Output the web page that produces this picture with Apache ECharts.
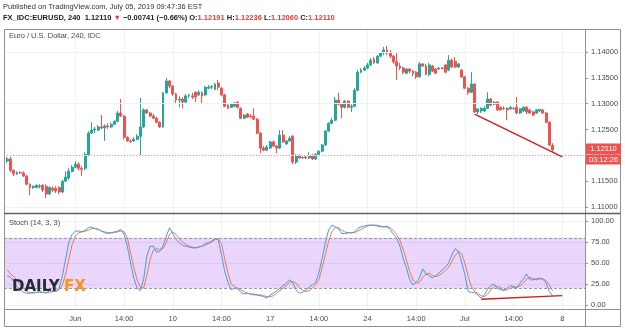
<!DOCTYPE html>
<html>
<head>
<meta charset="utf-8">
<script src="https://cdn.jsdelivr.net/npm/echarts@6/dist/echarts.min.js"></script>
<style>
  html, body { margin: 0; padding: 0; background: #fff; }
  #chart { width: 625px; height: 330px; }
</style>
</head>
<body>
<div id="chart"></div>
<script>
// x axis: 180 slots of 4h bars, labels every 15 slots
const tickIndex = [22, 37, 52, 67, 82, 97, 112, 127, 142, 157, 172];
const tickLabels = ['Jun', '14:00', '10', '14:00', '17', '14:00', '24', '14:00', 'Jul', '14:00', '8'];
const priceTicks = [1.11, 1.115, 1.12, 1.125, 1.13, 1.135, 1.14];
const stochTicks = [0, 25, 50, 75, 100];
const lastPrice = 1.1211;

// EURUSD 4h candles: [open, close, low, high]
const candles = [
  [1.1189,1.1193,1.1185,1.1197],[1.1193,1.1171,1.1167,1.1197],[1.1171,1.1164,1.1160,1.1173],[1.1164,1.1167,1.1162,1.1169],
  [1.1167,1.1166,1.1164,1.1169],[1.1166,1.1160,1.1158,1.1169],[1.1160,1.1144,1.1142,1.1162],[1.1144,1.1138,1.1123,1.1146],
  [1.1138,1.1140,1.1135,1.1142],[1.1138,1.1142,1.1136,1.1144],[1.1140,1.1141,1.1136,1.1144],[1.1142,1.1133,1.1129,1.1144],
  [1.1140,1.1125,1.1117,1.1144],[1.1125,1.1138,1.1123,1.1140],[1.1136,1.1133,1.1129,1.1140],[1.1136,1.1131,1.1127,1.1140],
  [1.1138,1.1129,1.1125,1.1140],[1.1129,1.1150,1.1127,1.1152],[1.1150,1.1158,1.1148,1.1169],[1.1156,1.1169,1.1152,1.1175],
  [1.1169,1.1177,1.1167,1.1181],[1.1177,1.1183,1.1175,1.1189],[1.1183,1.1175,1.1171,1.1187],[1.1175,1.1173,1.1160,1.1179],
  [1.1175,1.1202,1.1171,1.1206],[1.1200,1.1243,1.1198,1.1247],[1.1243,1.1249,1.1241,1.1264],[1.1249,1.1251,1.1243,1.1255],
  [1.1249,1.1255,1.1247,1.1259],[1.1255,1.1253,1.1251,1.1278],[1.1253,1.1257,1.1228,1.1260],[1.1257,1.1255,1.1251,1.1262],
  [1.1255,1.1260,1.1253,1.1264],[1.1260,1.1266,1.1259,1.1268],[1.1266,1.1282,1.1264,1.1286],[1.1282,1.1276,1.1274,1.1309],
  [1.1276,1.1235,1.1231,1.1278],[1.1235,1.1228,1.1226,1.1237],[1.1228,1.1227,1.1224,1.1231],[1.1228,1.1231,1.1226,1.1235],
  [1.1231,1.1237,1.1229,1.1241],[1.1237,1.1255,1.1200,1.1311],[1.1255,1.1288,1.1253,1.1291],[1.1288,1.1282,1.1280,1.1290],
  [1.1282,1.1276,1.1274,1.1284],[1.1276,1.1272,1.1270,1.1280],[1.1272,1.1264,1.1262,1.1274],[1.1264,1.1255,1.1253,1.1266],
  [1.1255,1.1321,1.1253,1.1322],[1.1321,1.1344,1.1319,1.1350],[1.1344,1.1334,1.1330,1.1346],[1.1334,1.1319,1.1315,1.1336],
  [1.1319,1.1307,1.1301,1.1321],[1.1307,1.1309,1.1293,1.1315],[1.1309,1.1303,1.1291,1.1313],[1.1303,1.1315,1.1301,1.1319],
  [1.1315,1.1316,1.1311,1.1319],[1.1315,1.1313,1.1309,1.1321],[1.1322,1.1313,1.1303,1.1324],[1.1317,1.1322,1.1315,1.1326],
  [1.1321,1.1315,1.1301,1.1324],[1.1317,1.1332,1.1315,1.1334],[1.1330,1.1332,1.1328,1.1336],[1.1332,1.1333,1.1328,1.1336],
  [1.1328,1.1338,1.1326,1.1340],[1.1340,1.1332,1.1326,1.1346],[1.1330,1.1317,1.1315,1.1332],[1.1317,1.1295,1.1293,1.1319],
  [1.1297,1.1291,1.1290,1.1299],[1.1293,1.1299,1.1291,1.1301],[1.1295,1.1301,1.1293,1.1303],[1.1303,1.1293,1.1291,1.1305],
  [1.1291,1.1272,1.1270,1.1293],[1.1272,1.1278,1.1270,1.1280],[1.1280,1.1274,1.1272,1.1282],[1.1276,1.1275,1.1272,1.1280],
  [1.1276,1.1270,1.1268,1.1291],[1.1270,1.1243,1.1241,1.1272],[1.1243,1.1214,1.1204,1.1245],[1.1214,1.1210,1.1208,1.1218],
  [1.1210,1.1216,1.1208,1.1220],[1.1214,1.1226,1.1212,1.1228],[1.1226,1.1218,1.1216,1.1229],[1.1218,1.1214,1.1204,1.1220],
  [1.1214,1.1239,1.1212,1.1249],[1.1239,1.1226,1.1224,1.1249],[1.1222,1.1228,1.1220,1.1229],[1.1228,1.1233,1.1226,1.1237],
  [1.1237,1.1187,1.1183,1.1239],[1.1187,1.1200,1.1183,1.1202],[1.1200,1.1195,1.1193,1.1202],[1.1195,1.1196,1.1193,1.1198],
  [1.1197,1.1195,1.1193,1.1198],[1.1195,1.1200,1.1193,1.1206],[1.1200,1.1193,1.1191,1.1202],[1.1193,1.1202,1.1191,1.1204],
  [1.1202,1.1208,1.1200,1.1210],[1.1208,1.1220,1.1206,1.1222],[1.1220,1.1247,1.1218,1.1249],[1.1247,1.1262,1.1245,1.1264],
  [1.1262,1.1268,1.1260,1.1272],[1.1268,1.1307,1.1266,1.1313],[1.1307,1.1299,1.1297,1.1321],[1.1299,1.1293,1.1272,1.1301],
  [1.1293,1.1305,1.1291,1.1307],[1.1305,1.1293,1.1291,1.1307],[1.1293,1.1295,1.1284,1.1299],[1.1295,1.1326,1.1293,1.1330],
  [1.1326,1.1361,1.1324,1.1365],[1.1361,1.1365,1.1359,1.1369],[1.1365,1.1369,1.1363,1.1373],[1.1369,1.1375,1.1367,1.1379],
  [1.1375,1.1384,1.1373,1.1388],[1.1386,1.1379,1.1377,1.1390],[1.1379,1.1392,1.1377,1.1394],[1.1392,1.1398,1.1390,1.1400],
  [1.1398,1.1404,1.1394,1.1410],[1.1404,1.1398,1.1394,1.1412],[1.1398,1.1392,1.1388,1.1404],[1.1392,1.1381,1.1377,1.1394],
  [1.1381,1.1373,1.1346,1.1400],[1.1373,1.1369,1.1365,1.1379],[1.1369,1.1361,1.1357,1.1371],[1.1359,1.1367,1.1357,1.1369],
  [1.1367,1.1363,1.1359,1.1369],[1.1363,1.1359,1.1353,1.1365],[1.1361,1.1352,1.1348,1.1363],[1.1352,1.1377,1.1350,1.1381],
  [1.1377,1.1373,1.1371,1.1379],[1.1373,1.1357,1.1355,1.1377],[1.1357,1.1375,1.1353,1.1379],[1.1373,1.1363,1.1361,1.1375],
  [1.1367,1.1359,1.1357,1.1369],[1.1367,1.1369,1.1365,1.1371],[1.1369,1.1368,1.1367,1.1371],[1.1375,1.1361,1.1359,1.1377],
  [1.1365,1.1384,1.1363,1.1394],[1.1384,1.1371,1.1369,1.1388],[1.1382,1.1371,1.1369,1.1390],[1.1371,1.1377,1.1369,1.1379],
  [1.1365,1.1352,1.1350,1.1367],[1.1352,1.1330,1.1328,1.1353],[1.1330,1.1322,1.1317,1.1332],[1.1322,1.1338,1.1321,1.1361],
  [1.1338,1.1284,1.1282,1.1340],[1.1284,1.1290,1.1280,1.1291],[1.1286,1.1291,1.1282,1.1293],[1.1286,1.1291,1.1284,1.1295],
  [1.1291,1.1309,1.1290,1.1322],[1.1309,1.1297,1.1295,1.1311],[1.1299,1.1303,1.1297,1.1305],[1.1303,1.1288,1.1286,1.1305],
  [1.1293,1.1288,1.1286,1.1295],[1.1290,1.1291,1.1288,1.1295],[1.1291,1.1288,1.1268,1.1293],[1.1290,1.1293,1.1288,1.1295],
  [1.1291,1.1290,1.1290,1.1293],[1.1293,1.1282,1.1280,1.1313],[1.1282,1.1290,1.1280,1.1291],[1.1286,1.1293,1.1284,1.1295],
  [1.1293,1.1284,1.1280,1.1295],[1.1288,1.1282,1.1280,1.1290],[1.1284,1.1278,1.1276,1.1286],[1.1282,1.1288,1.1280,1.1290],
  [1.1286,1.1289,1.1284,1.1290],[1.1288,1.1282,1.1280,1.1290],[1.1282,1.1264,1.1262,1.1284],[1.1264,1.1220,1.1218,1.1266],
  [1.12191,1.12110,1.12060,1.12236]
];

// Stoch (14, 3, 3)
const stochK = [
  35,33,28,22,18,15,14,14,15,15, 16,15,14,17,16,17,20,35,55,75,
  84,88,88,87,89,92,93,91,90,88, 86,85,86,87,88,90,84,70,50,32,
  20,17,30,58,70,70,63,64,70,82, 92,85,78,74,71,70,69,68,68,69,
  70,73,74,76,79,78,60,40,27,18, 20,19,15,13,14,13,12,12,11,10,
  8,12,14,17,20,23,26,30,26,18, 14,15,18,21,24,27,38,55,74,89,
  95,93,91,85,85,86,86,87,91,93, 94,95,95,95,94,93,93,94,89,84,
  80,70,55,44,30,24,27,32,43,37, 35,32,35,38,42,45,50,60,67,64,
  51,36,16,15,15,12,8,12,19,23, 25,20,18,17,20,23,22,21,26,31,
  37,30,30,31,32,31,26,16,11
];
const stochD = [
  42,37,34,29,24,19,16,15,14,15, 15,15,15,15,16,16,18,24,37,55,
  72,82,86,87,88,89,91,91,90,88, 87,86,86,86,87,88,87,80,62,45,
  30,21,20,35,54,65,67,66,67,74, 84,87,84,79,75,72,70,69,68,69,
  70,71,73,75,78,79,73,55,38,25, 22,20,18,16,14,13,13,12,12,11,
  10,10,11,14,17,20,23,27,28,26, 21,17,16,17,20,24,30,44,60,76,
  87,92,92,89,87,86,86,86,88,90, 92,94,95,95,95,94,93,93,92,88,
  84,77,66,53,40,30,26,27,33,37, 38,35,34,35,38,41,45,52,59,64,
  61,50,34,22,16,14,11,10,13,18, 22,22,21,18,18,20,21,21,23,26,
  31,33,32,30,31,31,29,24,17
];

// trend lines [slot, value]
const priceTrend = [[145, 1.1280], [172, 1.11969]];
const stochTrend = [[147, 6.8], [172, 11.1]];

const slots = [];
for (let i = 0; i < 180; i++) slots.push(String(i));
// first slot is left empty
const candleData = [['-', '-', '-', '-']].concat(candles);
const kData = ['-'].concat(stochK);
const dData = ['-'].concat(stochD);

const font = 'Liberation Sans, Arial, sans-serif';
const txt = '#4a4a4a';
const gridColor = '#eef1f6';
const frame = '#8f9196';
const upColor = '#26a69a';
const downColor = '#ef5350';

const isTick = (idx) => tickIndex.indexOf(idx) >= 0;

let chart = echarts.init(document.getElementById('chart'), null, { renderer: 'canvas' });
chart.setOption({
  animation: false,
  grid: [
    { left: 4, top: 29, width: 581, height: 184 },
    { left: 4, top: 214, width: 581, height: 95 }
  ],
  xAxis: [
    {
      type: 'category', gridIndex: 0, data: slots, boundaryGap: false,
      axisLine: { show: false }, axisTick: { show: false }, axisLabel: { show: false },
      splitLine: { show: true, interval: (idx) => isTick(idx), lineStyle: { color: gridColor, width: 1 } }
    },
    {
      type: 'category', gridIndex: 1, data: slots, boundaryGap: false,
      axisLine: { show: false }, axisTick: { show: false },
      axisLabel: {
        interval: (idx) => isTick(idx),
        formatter: (v, idx) => tickLabels[tickIndex.indexOf(Number(v))] || '',
        color: txt, fontFamily: font, fontSize: 7.5, margin: 6
      },
      splitLine: { show: true, interval: (idx) => isTick(idx), lineStyle: { color: gridColor, width: 1 } }
    }
  ],
  yAxis: [
    {
      type: 'value', gridIndex: 0, position: 'right', min: 1.10884, max: 1.14446,
      axisLine: { show: false },
      axisTick: { show: true, length: 3, customValues: priceTicks, lineStyle: { color: frame } },
      axisLabel: { customValues: priceTicks, formatter: (v) => v.toFixed(5), color: txt, fontFamily: font, fontSize: 7.5, margin: 6 },
      splitLine: { show: false }
    },
    {
      type: 'value', gridIndex: 1, position: 'right', min: -4.76, max: 108.3,
      axisLine: { show: false },
      axisTick: { show: true, length: 3, customValues: stochTicks, lineStyle: { color: frame } },
      axisLabel: { customValues: stochTicks, formatter: (v) => v.toFixed(2), color: txt, fontFamily: font, fontSize: 7.5, margin: 6 },
      splitLine: { show: false }
    }
  ],
  series: [
    {
      name: 'EURUSD', type: 'candlestick', xAxisIndex: 0, yAxisIndex: 0,
      data: candleData, barWidth: 2.4,
      itemStyle: { color: upColor, color0: downColor, borderColor: upColor, borderColor0: downColor, borderWidth: 1 },
      markLine: {
        silent: true, symbol: 'none', animation: false,
        label: { show: false },
        data: priceTicks.map(v => ({ yAxis: v, lineStyle: { color: gridColor, width: 1, type: 'solid' } }))
          .concat([
            { yAxis: lastPrice, lineStyle: { color: '#f27d7b', width: 1, type: [1, 2], opacity: 0.8 } },
            [
              { coord: priceTrend[0], lineStyle: { color: '#cc1f1f', width: 1.4, type: 'solid' } },
              { coord: priceTrend[1] }
            ]
          ])
      },
      z: 3
    },
    {
      name: '%K', type: 'line', xAxisIndex: 1, yAxisIndex: 1, data: kData,
      symbol: 'none', lineStyle: { color: '#3f9cf2', width: 1 }, z: 4,
      markArea: {
        silent: true,
        itemStyle: { color: '#ead5fc' },
        data: [[{ yAxis: 20 }, { yAxis: 80 }]]
      },
      markLine: {
        silent: true, symbol: 'none', animation: false,
        label: { show: false },
        data: stochTicks.map(v => ({ yAxis: v, lineStyle: { color: 'rgba(120,130,160,0.12)', width: 1, type: 'solid' } }))
          .concat([
            { yAxis: 80, lineStyle: { color: '#9b9b9b', width: 1, type: [3, 2] } },
            { yAxis: 20, lineStyle: { color: '#9b9b9b', width: 1, type: [3, 2] } }
          ])
      }
    },
    {
      name: '%D', type: 'line', xAxisIndex: 1, yAxisIndex: 1, data: dData,
      symbol: 'none', lineStyle: { color: '#f27a3c', width: 1 }, z: 3,
      markLine: {
        silent: true, symbol: 'none', animation: false,
        label: { show: false },
        data: [[
          { coord: stochTrend[0], lineStyle: { color: '#cc1f1f', width: 1.4, type: 'solid' } },
          { coord: stochTrend[1] }
        ]]
      }
    }
  ],
  graphic: [
    { type: 'text', left: 3, top: 3, z: 100,
      style: { text: 'Published on TradingView.com, July 05, 2019 09:47:36 EST', font: '7.5px ' + font, fill: '#333' } },
    { type: 'text', left: 3, top: 13.5, z: 100,
      style: {
        text: '{b|FX_IDC:EURUSD, 240}  {b|1.12110} {r|▼} {b|\u22120.00741 (\u22120.66%)} {b|O:}{r|1.12191} {b|H:}{r|1.12236} {b|L:}{r|1.12060} {b|C:}{r|1.12110}',
        font: 'bold 7.5px ' + font, fill: '#222',
        rich: {
          b: { font: 'bold 7.5px ' + font, fill: '#222' },
          r: { font: 'bold 7.5px ' + font, fill: '#e0403d' }
        }
      } },
    { type: 'text', left: 9, top: 32, z: 100,
      style: { text: 'Euro / U.S. Dollar, 240, IDC', font: '7.5px ' + font, fill: txt } },
    { type: 'text', left: 9, top: 219, z: 100,
      style: { text: 'Stoch (14, 3, 3)', font: '7.5px ' + font, fill: txt } },
    // frame
    { type: 'rect', z: 100, shape: { x: 4.5, y: 29.5, width: 616, height: 297 }, style: { fill: 'none', stroke: frame, lineWidth: 1 } },
    { type: 'line', z: 100, shape: { x1: 585.5, y1: 29.5, x2: 585.5, y2: 326.5 }, style: { stroke: frame, lineWidth: 1 } },
    { type: 'line', z: 100, shape: { x1: 4.5, y1: 213.5, x2: 620.5, y2: 213.5 }, style: { stroke: '#5d6066', lineWidth: 1.5 } },
    { type: 'line', z: 100, shape: { x1: 4.5, y1: 309.5, x2: 620.5, y2: 309.5 }, style: { stroke: frame, lineWidth: 1 } },
    // last price and countdown tags
    { type: 'rect', z: 100, shape: { x: 586, y: 143.5, width: 35, height: 10.5 }, style: { fill: downColor } },
    { type: 'text', z: 101, x: 603.5, y: 148.8,
      style: { text: '1.12110', font: '7.5px ' + font, fill: '#fff', align: 'center', verticalAlign: 'middle' } },
    { type: 'rect', z: 100, shape: { x: 586, y: 154.5, width: 35, height: 10 }, style: { fill: downColor } },
    { type: 'text', z: 101, x: 603.5, y: 159.6,
      style: { text: '03:12:26', font: '7.5px ' + font, fill: '#fff', align: 'center', verticalAlign: 'middle' } },
    // DailyFX watermark
    { type: 'text', z: 100, left: 12, top: 280,
      style: { text: 'DAILY', font: 'bold 15px DejaVu Sans, sans-serif', fill: '#262b38' } },
    { type: 'text', z: 100, left: 64, top: 280,
      style: { text: 'FX', font: 'bold 15px DejaVu Sans, sans-serif', fill: '#f7941d' } }
  ]
});
</script>
</body>
</html>
